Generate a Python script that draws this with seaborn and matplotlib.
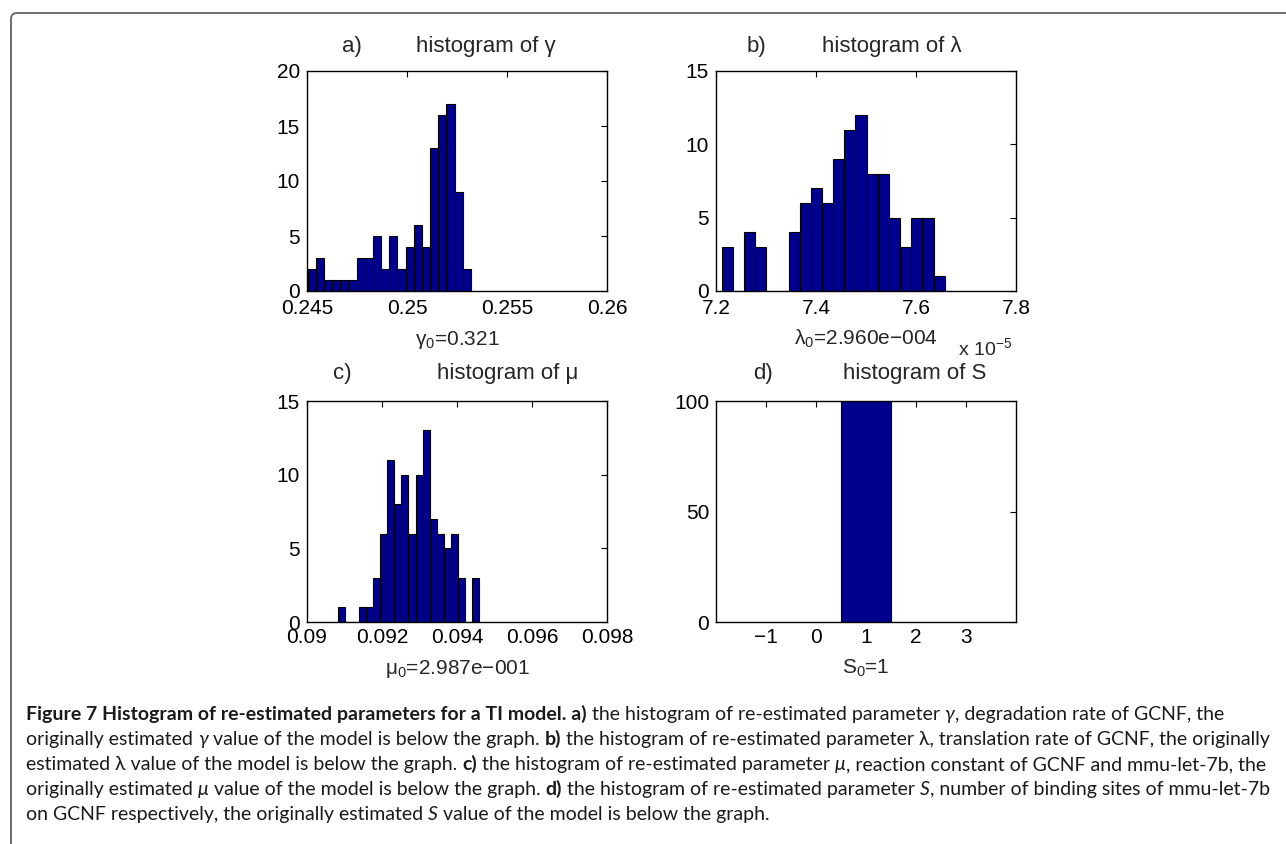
import numpy as np
import pandas as pd
import matplotlib
matplotlib.use("Agg")
import matplotlib.pyplot as plt
import seaborn as sns
from matplotlib.patches import FancyBboxPatch
from matplotlib.transforms import IdentityTransform
from matplotlib.text import Annotation

# Re-estimated parameter histograms: 20 bins per parameter, 100 runs each
gamma_counts = [2, 3, 1, 1, 1, 1, 3, 3, 5, 2, 5, 2, 4, 6, 4, 13, 16, 17, 9, 2]
gamma_span = [0.24503, 0.25320]
gamma_ticks = [0.245, 0.25, 0.255, 0.26]
gamma_ticklabels = ["0.245", "0.25", "0.255", "0.26"]
gamma_yticks = [0, 5, 10, 15, 20]

lambda_counts = [3, 0, 4, 3, 0, 0, 4, 6, 7, 6, 9, 11, 12, 8, 8, 5, 3, 5, 5, 1]
lambda_span = [7.2114, 7.6573]  # in units of 1e-5
lambda_ticks = [7.2, 7.4, 7.6, 7.8]
lambda_ticklabels = ["7.2", "7.4", "7.6", "7.8"]
lambda_yticks = [0, 5, 10, 15]

mu_counts = [1, 0, 0, 1, 1, 3, 6, 11, 8, 10, 6, 10, 13, 7, 6, 5, 6, 3, 0, 3]
mu_span = [0.09082, 0.09459]
mu_ticks = [0.09, 0.092, 0.094, 0.096, 0.098]
mu_ticklabels = ["0.09", "0.092", "0.094", "0.096", "0.098"]
mu_yticks = [0, 5, 10, 15]

s_counts = [100]
s_span = [0.5, 1.5]
s_ticks = [-1, 0, 1, 2, 3]
s_ticklabels = ["\u22121", "0", "1", "2", "3"]
s_yticks = [0, 50, 100]

titles = ["histogram of \u03b3", "histogram of \u03bb", "histogram of \u03bc", "histogram of S"]
letters = ["a)", "b)", "c)", "d)"]
estimates = ["$\\mathregular{\u03b3_0}$=0.321",
             "$\\mathregular{\u03bb_0}$=2.960e\u2212004",
             "$\\mathregular{\u03bc_0}$=2.987e\u2212001",
             "$\\mathregular{S_0}$=1"]

sns.set_theme(style="white")
plt.rcParams["font.family"] = ["Liberation Sans", "DejaVu Sans"]
plt.rcParams["mathtext.fontset"] = "custom"
plt.rcParams["mathtext.rm"] = "Liberation Sans"
plt.rcParams["mathtext.it"] = "Liberation Sans:italic"

W, H = 1286, 844
fig = plt.figure(figsize=(W / 100, H / 100), dpi=100)
fig.patch.set_facecolor("white")

BAR = "#00008F"
TICK_FS = 15
TITLE_FS = 16


def add_axes_px(left, top, w, h):
    return fig.add_axes([left / W, 1 - (top + h) / H, w / W, h / H])


def draw_hist(ax, counts, span, xlim, xticks, xticklabels, ylim, yticks, xpad):
    nbins = len(counts)
    width = (span[1] - span[0]) / nbins
    df = pd.DataFrame({"value": span[0] + width * (np.arange(nbins) + 0.5),
                       "count": np.asarray(counts, dtype=float)})
    sns.histplot(data=df, x="value", weights="count", bins=nbins,
                 binrange=(span[0], span[1]), ax=ax,
                 color=BAR, edgecolor="black", linewidth=0.8, alpha=1.0)
    ax.set_xlim(*xlim)
    ax.set_ylim(*ylim)
    ax.set_xticks(xticks)
    ax.set_xticklabels(xticklabels)
    ax.set_yticks(yticks)
    ax.set_xlabel("")
    ax.set_ylabel("")
    ax.tick_params(direction="in", length=4, width=0.8, top=True, right=True,
                   labelsize=TICK_FS, colors="black")
    ax.tick_params(axis="x", pad=xpad)
    ax.tick_params(axis="y", pad=5)
    for sp in ax.spines.values():
        sp.set_visible(True)
        sp.set_color("black")
        sp.set_linewidth(1.0)
    ax.set_facecolor("white")


ax_a = add_axes_px(307, 71, 300, 220)
ax_b = add_axes_px(716, 71, 300, 220)
ax_c = add_axes_px(307, 401, 300, 221)
ax_d = add_axes_px(716, 401, 300, 221)

draw_hist(ax_a, gamma_counts, gamma_span, (0.245, 0.26), gamma_ticks, gamma_ticklabels, (0, 20), gamma_yticks, 6)
draw_hist(ax_b, lambda_counts, lambda_span, (7.2, 7.8), lambda_ticks, lambda_ticklabels, (0, 15), lambda_yticks, 6)
draw_hist(ax_c, mu_counts, mu_span, (0.09, 0.098), mu_ticks, mu_ticklabels, (0, 15), mu_yticks, 4)
draw_hist(ax_d, s_counts, s_span, (-2, 4), s_ticks, s_ticklabels, (0, 100), s_yticks, 4)


def fig_text(x, y, s, **kw):
    return fig.text(x / W, 1 - y / H, s, **kw)


# panel titles: letter and description placed separately
title_pos = [(342, 416, 52), (747, 822, 52), (333, 437, 379), (753, 843, 379)]
for (xl, xt, yb), letter, title in zip(title_pos, letters, titles):
    fig_text(xl, yb, letter, fontsize=TITLE_FS, ha="left", va="baseline")
    fig_text(xt, yb, title, fontsize=TITLE_FS, ha="left", va="baseline")

# originally estimated values under each panel
label_pos = [(457, 345), (866, 345), (457, 674), (866, 674)]
for (x, y), s in zip(label_pos, estimates):
    fig_text(x, y, s, fontsize=TICK_FS, ha="center", va="baseline")
fig_text(958, 355, "x 10$^{\\mathregular{\u22125}}$", fontsize=TICK_FS - 1, ha="left", va="baseline")

# page frame (top and left edges with a rounded corner)
frame = FancyBboxPatch((11, -100), 1400, H - 13 + 100,
                       boxstyle="round,pad=0,rounding_size=6",
                       transform=IdentityTransform(), fill=False,
                       edgecolor="#6d6d6d", linewidth=1.4)
fig.add_artist(frame)

# caption
CAP_FONTS = ["Lato", "DejaVu Sans"]
CAP_FS = 14


def caption_line(x, y, parts, size=CAP_FS):
    prev = None
    for text, kind in parts:
        gap = size * 0.26 if text.startswith(" ") else 0.0
        text = text.lstrip(" ")
        kw = dict(fontsize=size, family=CAP_FONTS, color="#1a1a1a",
                  fontweight="bold" if kind == "b" else "normal",
                  fontstyle="italic" if kind == "i" else "normal")
        if prev is None:
            prev = fig_text(x, y, text, ha="left", va="baseline", **kw)
        else:
            prev = fig.add_artist(Annotation(text, xy=(1, 0), xycoords=prev,
                                             xytext=(gap, 0), textcoords="offset points",
                                             ha="left", va="bottom", **kw))


caption = [
    [("Figure 7 Histogram of re-estimated parameters for a TI model. a)", "b"),
     (" the histogram of re-estimated parameter", "r"), (" \u03b3", "i"),
     (", degradation rate of GCNF, the", "r")],
    [("originally estimated", "r"), (" \u03b3", "i"),
     (" value of the model is below the graph.", "r"), (" b)", "b"),
     (" the histogram of re-estimated parameter \u03bb, translation rate of GCNF, the originally", "r")],
    [("estimated \u03bb value of the model is below the graph.", "r"), (" c)", "b"),
     (" the histogram of re-estimated parameter", "r"), (" \u03bc", "i"),
     (", reaction constant of GCNF and mmu-let-7b, the", "r")],
    [("originally estimated", "r"), (" \u03bc", "i"),
     (" value of the model is below the graph.", "r"), (" d)", "b"),
     (" the histogram of re-estimated parameter", "r"), (" S", "i"),
     (", number of binding sites of mmu-let-7b", "r")],
    [("on GCNF respectively, the originally estimated", "r"), (" S", "i"),
     (" value of the model is below the graph.", "r")],
]
for i, parts in enumerate(caption):
    caption_line(26, 720 + 25 * i, parts)

fig.savefig("out.png", dpi=100, facecolor="white")
